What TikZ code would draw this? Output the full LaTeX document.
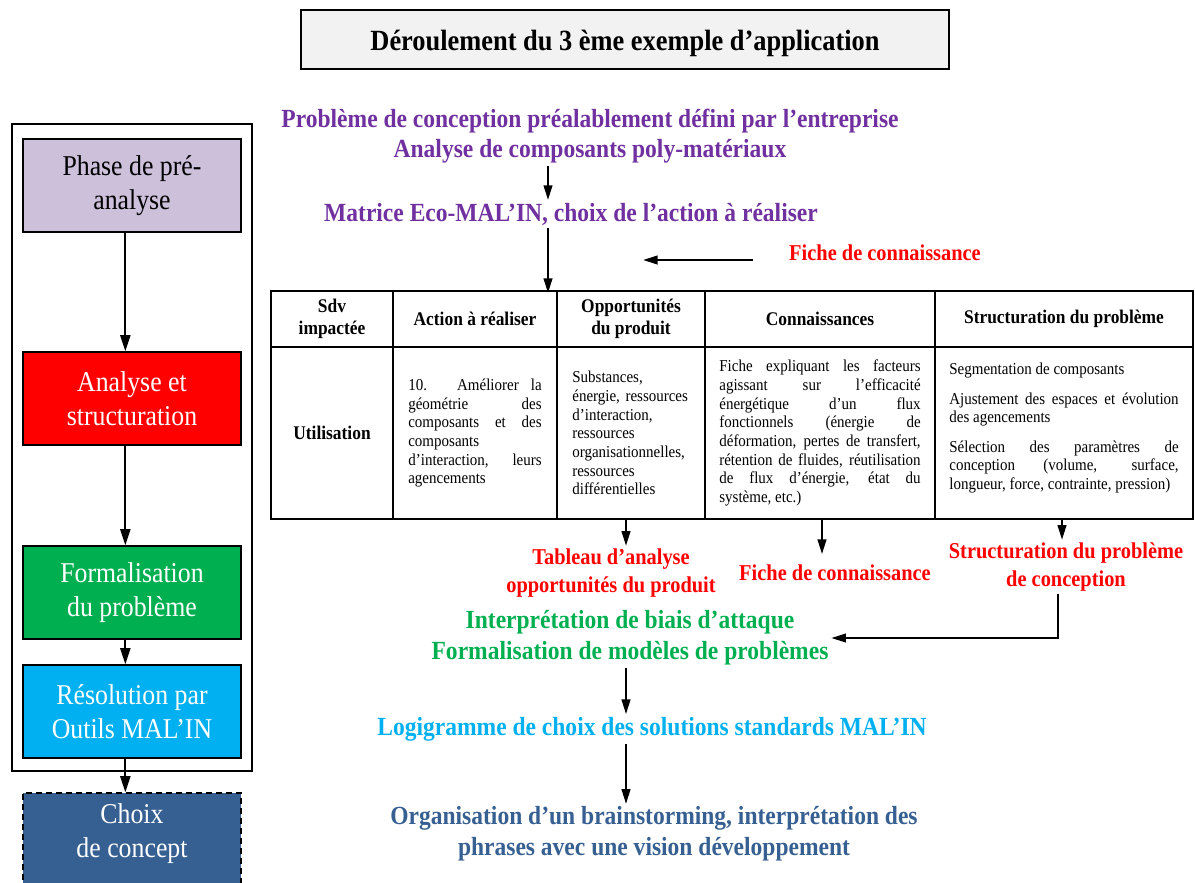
\documentclass[tikz,border=0pt]{standalone}
\usepackage{fontspec}
\setmainfont{Liberation Serif}[FakeStretch=0.9]
\usetikzlibrary{arrows.meta,positioning}
\definecolor{mlpurple}{HTML}{7030A0}
\definecolor{mlred}{HTML}{FF0000}
\definecolor{mlgreen}{HTML}{00B050}
\definecolor{mlcyan}{HTML}{00B0F0}
\definecolor{mlnavy}{HTML}{376092}
\definecolor{mllavender}{HTML}{CCC0DA}
\definecolor{mltitlefill}{HTML}{F2F2F2}
\hyphenpenalty=10000
\exhyphenpenalty=10000
\tikzset{
  titlebox/.style={draw=black,fill=mltitlefill,line width=1.5pt,minimum width=486pt,
    minimum height=44.25pt,text height=19pt,text depth=2pt,font=\fontsize{22}{26}\selectfont\bfseries},
  phasebox/.style={draw=black,line width=1.2pt,minimum width=163.5pt,minimum height=69.75pt,
    inner sep=2pt,align=center,font=\fontsize{21.5}{25.5}\selectfont},
  phasearrow/.style={draw=black,line width=1.5pt,-{Triangle[length=12pt,width=7.5pt]}},
  flowarrow/.style={draw=black,line width=1.5pt,-{Triangle[length=11pt,width=6.5pt]}},
  hcell/.style={draw=black,line width=1.5pt,minimum height=42pt,outer sep=0pt,inner sep=3pt,
    align=center,font=\fontsize{14.5}{17}\selectfont\bfseries},
  bcell/.style={draw=black,line width=1.5pt,minimum height=129pt,outer sep=0pt,inner sep=4pt,
    font=\fontsize{12.5}{14}\selectfont},
  steptext/.style={inner sep=2pt,align=center,font=\fontsize{19.6}{23}\selectfont\bfseries},
  outtext/.style={inner sep=2pt,align=center,text=mlred,font=\fontsize{17}{21}\selectfont\bfseries},
}
\begin{document}
\begin{tikzpicture}[x=0.75pt,y=-0.75pt]
  \useasboundingbox (0,0) rectangle (1195,882);
  \node[titlebox] (title) at (625,39.5) {Déroulement du 3 ème exemple d’application};
  % phases
  \draw[line width=1.2pt] (12,124) rectangle (252,771);
  \node[phasebox,fill=mllavender] (p1) at (132,185.5) {Phase de pré-\\analyse};
  \node[phasebox,fill=mlred,text=white] (p2) at (132,398.5) {Analyse et\\structuration};
  \node[phasebox,fill=mlgreen,text=white] (p3) at (132,592.5) {Formalisation\\du problème};
  \node[phasebox,fill=mlcyan,text=white] (p4) at (132,711.5) {Résolution par\\Outils MAL’IN};
  \node[phasebox,fill=mlnavy,text=white,dash pattern=on 4.5pt off 3pt] (p5) at (132,839.5) {Choix\\de concept\\[-12pt]};
  \foreach \a/\b in {p1/p2,p2/p3,p3/p4,p4/p5}
    {\draw[phasearrow] ([xshift=-5pt]\a.south) -- ([xshift=-5pt]\b.north);}
  % flow above the table
  \node[steptext,text=mlpurple] (probl) at (590,136)
    {Problème de conception préalablement défini par l’entreprise\\Analyse de composants poly-matériaux};
  \node[steptext,text=mlpurple] (matrice) at (571,214) {Matrice Eco-MAL’IN, choix de l’action à réaliser};
  \node[outtext] (fiche1) at (885,253) {Fiche de connaissance};
  \coordinate (tabtop) at (548,293);
  \coordinate (fichetail) at (753,260);
  \coordinate (fichetip) at (643,260);
  \draw[flowarrow] (probl.south -| tabtop) -- (matrice.north -| tabtop);
  \draw[flowarrow] (matrice.south -| tabtop) -- (tabtop);
  \draw[flowarrow] (fichetail) -- (fichetip);
  % table
  \node[hcell,minimum width=91.5pt,anchor=north west] (h1) at (271,291) {Sdv\\impactée};
  \node[hcell,minimum width=123pt,right=0pt of h1] (h2) {Action à réaliser};
  \node[hcell,minimum width=111pt,right=0pt of h2] (h3) {Opportunités\\du produit};
  \node[hcell,minimum width=172.5pt,right=0pt of h3] (h4) {Connaissances};
  \node[hcell,minimum width=193.5pt,right=0pt of h4] (h5) {Structuration du problème};
  \node[bcell,minimum width=91.5pt,below=0pt of h1,font=\fontsize{14.5}{17}\selectfont\bfseries] (b1) {Utilisation};
  \node[bcell,minimum width=123pt,text width=100pt,align=justify,below=0pt of h2] (b2)
    {10. Améliorer la\linebreak géométrie des\linebreak composants et des\linebreak composants\\d’interaction, leurs\linebreak agencements};
  \node[bcell,minimum width=111pt,text width=88pt,align=left,below=0pt of h3] (b3)
    {Substances,\\énergie, ressources\\d’interaction,\\ressources\\organisationnelles,\\ressources\\différentielles\\[-2pt]};
  \node[bcell,minimum width=172.5pt,text width=151pt,align=justify,below=0pt of h4] (b4)
    {Fiche expliquant les facteurs\linebreak agissant sur l’efficacité\linebreak énergétique d’un flux\linebreak
     fonctionnels (énergie de\linebreak déformation, pertes de transfert,\linebreak rétention de fluides, réutilisation\linebreak
     de flux d’énergie, état du\linebreak système, etc.)};
  \node[bcell,minimum width=193.5pt,text width=172pt,align=justify,below=0pt of h5] (b5)
    {Segmentation de composants\\[8pt]Ajustement des espaces et évolution\linebreak des agencements\\[8pt]
     Sélection des paramètres de\linebreak conception (volume, surface,\linebreak longueur, force, contrainte, pression)\\[-4pt]};
  % flow below the table
  \node[outtext] (tabl) at (611,573) {Tableau d’analyse\\opportunités du produit};
  \node[outtext] (fiche2) at (835,573) {Fiche de connaissance};
  \node[outtext] (struct) at (1066,567) {Structuration du problème\\de conception};
  \node[steptext,text=mlgreen] (formal) at (630,638)
    {Interprétation de biais d’attaque\\Formalisation de modèles de problèmes};
  \node[steptext,text=mlcyan] (logi) at (652,729) {Logigramme de choix des solutions standards MAL’IN};
  \node[steptext,text=mlnavy] (organ) at (654,834)
    {Organisation d’un brainstorming, interprétation des\\phrases avec une vision développement};
  \coordinate (x3) at (626,0);
  \coordinate (x4) at (822,0);
  \coordinate (x5) at (1062,0);
  \coordinate (x6) at (1058,0);
  \draw[flowarrow] (b3.south -| x3) -- (tabl.north -| x3);
  \draw[flowarrow] (b4.south -| x4) -- ([yshift=6pt]fiche2.north -| x4);
  \draw[flowarrow] (b5.south -| x5) -- (struct.north -| x5);
  \draw[flowarrow] (struct.south -| x6) |- (formal.east);
  \draw[flowarrow] (formal.south -| x3) -- (logi.north -| x3);
  \draw[flowarrow] (logi.south -| x3) -- (organ.north -| x3);
\end{tikzpicture}
\end{document}
